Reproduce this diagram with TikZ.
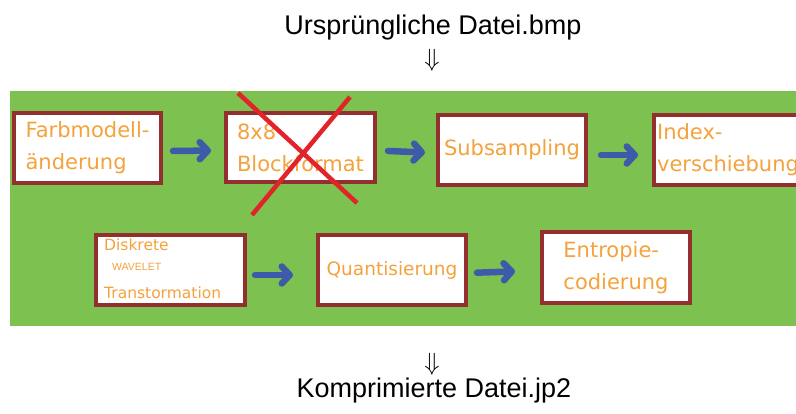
\documentclass[tikz,border=0pt]{standalone}
\usepackage{fontspec}
\setmainfont{Liberation Sans}
\newfontfamily\boxfont{DejaVu Sans}
\usetikzlibrary{arrows.meta}
\definecolor{bandgreen}{HTML}{7DC150}
\definecolor{boxred}{HTML}{932F2E}
\definecolor{txtorange}{HTML}{F4A23C}
\definecolor{arrowblue}{HTML}{3E5BA9}
\definecolor{crossred}{HTML}{E2232A}
\begin{document}
\begin{tikzpicture}[x=1pt,y=-1pt,
  stepbox/.style={draw=boxred, line width=4pt, fill=white, inner sep=0pt,
    minimum width=148pt, minimum height=70pt, align=left, text=txtorange,
    font=\boxfont\fontsize{21}{32}\selectfont},
  flow/.style={draw=arrowblue, line width=6.5pt, line cap=round,
    -{Straight Barb[length=8pt, width=17pt, round]}},
  smalltxt/.style={anchor=base west, inner sep=0pt, text=txtorange,
    font=\boxfont\fontsize{15.5}{18}\selectfont},
  caption/.style={anchor=base, inner sep=0pt, font=\fontsize{27}{30}\selectfont},
  darrow/.style={inner sep=0pt, font=\fontsize{27}{30}\selectfont},
  cross/.style={draw=crossred, line width=4.5pt}
]
\useasboundingbox (0,0) rectangle (796,414);
\clip (0,0) rectangle (796,414);
\fill[bandgreen] (10,91) rectangle (796,326);

\node[caption] (src) at (433,35) {Ursprüngliche Datei.bmp};
\node[darrow] (d1) at (432,60) {$\Downarrow$};
\node[darrow] (d2) at (432,364) {$\Downarrow$};
\node[caption] (dst) at (434,397) {Komprimierte Datei.jp2};

\node[stepbox, minimum width=147pt] (b1) at (87.5,148) {Farbmodell-\\änderung};
\node[stepbox, minimum width=149pt, minimum height=69pt] (b2) at (300.5,147.5) {8x8\\Blockformat};
\node[stepbox] (b3) at (512,150) {Subsampling};
\node[stepbox] (b4) at (728,150) {Index-\\verschiebung};

\node[stepbox, minimum width=149pt] (b5) at (170.5,270) {};
\node[smalltxt] (t5a) at (104,251) {Diskrete};
\node[anchor=base west, inner sep=0pt, text=txtorange, font=\fontsize{10.5}{12}\selectfont] (t5b) at (112,271) {WAVELET};
\node[smalltxt] (t5c) at (104,299) {Transtormation};
\node[stepbox, font=\boxfont\fontsize{18.5}{32}\selectfont] (b6) at (392,270) {Quantisierung};
\node[stepbox, minimum height=71pt] (b7) at (616,267.5) {Entropie-\\codierung};

\draw[cross] (238,93) -- (357,203);
\draw[cross] (350,97) -- (252,215);

\draw[flow, shorten <=10pt, shorten >=13pt] ([yshift=-3pt]b1.east) -- ([yshift=-3pt]b2.west);
\draw[flow, shorten <=11pt, shorten >=11pt] ([yshift=-3pt]b2.east) -- ([yshift=-3pt]b3.west);
\draw[flow, shorten <=13pt, shorten >=14pt] ([yshift=-5pt]b3.east) -- ([yshift=-5pt]b4.west);
\draw[flow, shorten <=8pt, shorten >=23pt] ([yshift=-5pt]b5.east) -- ([yshift=-5pt]b6.west);
\draw[flow, shorten <=9pt, shorten >=25pt] ([yshift=-3pt]b6.east) -- ([yshift=-3pt]b7.west);
\end{tikzpicture}
\end{document}
